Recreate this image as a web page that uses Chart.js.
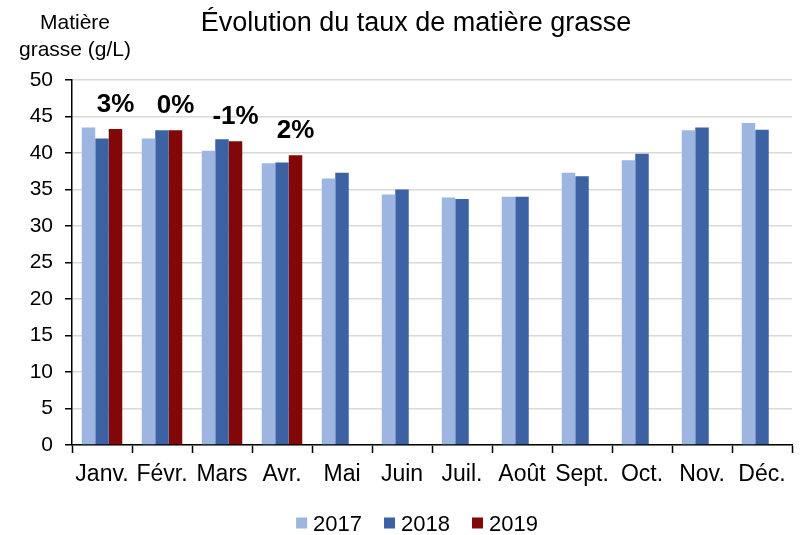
<!DOCTYPE html>
<html>
<head>
<meta charset="utf-8">
<script src="https://cdn.jsdelivr.net/npm/chart.js@4.4.1/dist/chart.umd.min.js"></script>
<style>
  html, body { margin: 0; padding: 0; background: #fff; }
  #wrap { width: 800px; height: 535px; position: relative; }
</style>
</head>
<body>
<div id="wrap"><canvas id="c" width="800" height="535"></canvas></div>
<script>
const months = ['Janv.', 'Févr.', 'Mars', 'Avr.', 'Mai', 'Juin', 'Juil.', 'Août', 'Sept.', 'Oct.', 'Nov.', 'Déc.'];
const seriesNames = ['2017', '2018', '2019'];
const values2017 = [43.5, 42.0, 40.3, 38.6, 36.5, 34.3, 33.9, 34.0, 37.3, 39.0, 43.1, 44.1];
const values2018 = [42.0, 43.1, 41.9, 38.7, 37.3, 35.0, 33.7, 34.0, 36.8, 39.9, 43.5, 43.2];
const values2019 = [43.3, 43.1, 41.6, 39.7, null, null, null, null, null, null, null, null];
const changeLabels = ['3%', '0%', '-1%', '2%'];
const yTicks = [0, 5, 10, 15, 20, 25, 30, 35, 40, 45, 50];
const chartTitle = 'Évolution du taux de matière grasse';
const yTitleLines = ['Matière', 'grasse (g/L)'];

const colors = ['#9DB5E1', '#3C62A4', '#820808'];
const FONT = "'Liberation Sans', Arial, sans-serif";

const textPlugin = {
  id: 'texts',
  afterDraw(chart) {
    const ctx = chart.ctx;
    ctx.save();
    ctx.fillStyle = '#000';
    ctx.textAlign = 'center';
    ctx.textBaseline = 'alphabetic';
    ctx.font = '27px ' + FONT;
    ctx.fillText(chartTitle, 416, 31);
    ctx.font = '21px ' + FONT;
    ctx.fillText(yTitleLines[0], 75, 29);
    ctx.fillText(yTitleLines[1], 75, 56);
    // change labels above 2019 bars
    const meta = chart.getDatasetMeta(2);
    ctx.font = 'bold 26px ' + FONT;
    changeLabels.forEach((t, i) => {
      const el = meta.data[i];
      if (!el) return;
      ctx.fillText(t, el.x, el.y - 17);
    });
    // legend (from dataset labels/colours)
    const ds = chart.data.datasets;
    ctx.font = '22px ' + FONT;
    ctx.textAlign = 'left';
    const box = 11, gap = 6, itemGap = 22;
    const widths = ds.map(d => box + gap + ctx.measureText(d.label).width);
    const total = widths.reduce((a, b) => a + b, 0) + itemGap * (ds.length - 1);
    let x = 417 - total / 2;
    const cy = 523;
    ds.forEach((d, i) => {
      ctx.fillStyle = d.backgroundColor;
      ctx.fillRect(x, cy - box / 2, box, box);
      ctx.fillStyle = '#000';
      ctx.fillText(d.label, x + box + gap, cy + 8);
      x += widths[i] + itemGap;
    });
    ctx.restore();
  }
};

new Chart(document.getElementById('c'), {
  type: 'bar',
  data: {
    labels: months,
    datasets: [
      { label: seriesNames[0], data: values2017, backgroundColor: colors[0] },
      { label: seriesNames[1], data: values2018, backgroundColor: colors[1] },
      { label: seriesNames[2], data: values2019, backgroundColor: colors[2] }
    ]
  },
  options: {
    responsive: false,
    animation: false,
    devicePixelRatio: 1,
    layout: { padding: { top: 80, right: 8, left: 0, bottom: 0 } },
    datasets: { bar: { categoryPercentage: 0.675, barPercentage: 1.0 } },
    plugins: {
      legend: { display: false },
      tooltip: { enabled: false },
      title: { display: false }
    },
    scales: {
      x: {
        grid: { offset: true, drawOnChartArea: false, tickLength: 8, tickColor: '#000', tickWidth: 1.5 },
        border: { color: '#000', width: 1.5 },
        ticks: { color: '#000', font: { family: FONT, size: 23 }, padding: 8, maxRotation: 0, autoSkip: false },
        afterFit(s) { s.height = 90; }
      },
      y: {
        min: 0, max: 50,
        afterBuildTicks(s) { s.ticks = yTicks.map(v => ({ value: v })); },
        grid: { color: '#D9D9D9', lineWidth: 1.5, tickLength: 7, tickColor: '#000', tickWidth: 1.5 },
        border: { color: '#000', width: 1.5 },
        ticks: { color: '#000', font: { family: FONT, size: 21 }, padding: 12 },
        afterFit(s) { s.width = 72; }
      }
    }
  },
  plugins: [textPlugin]
});
</script>
</body>
</html>
